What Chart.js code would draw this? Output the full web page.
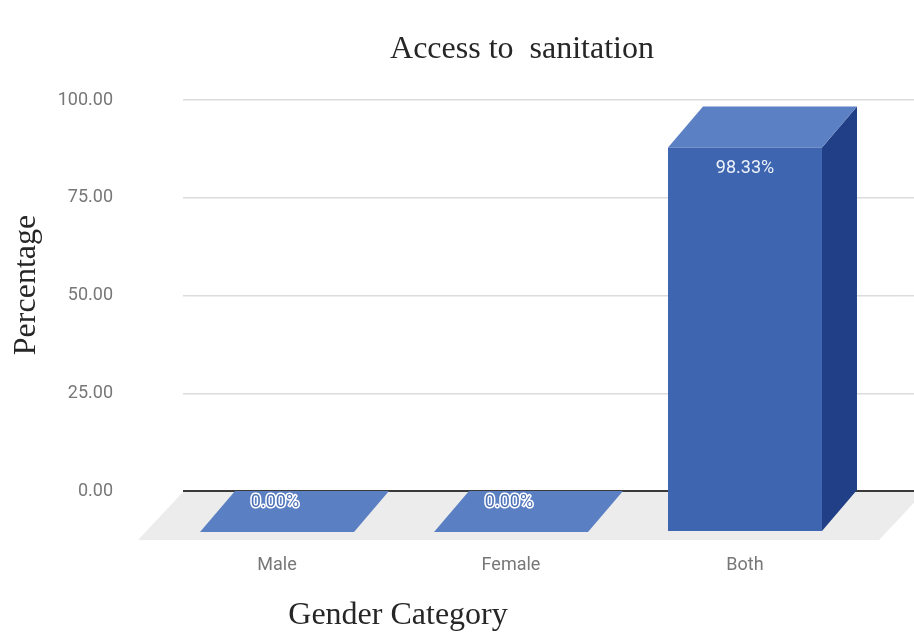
<!DOCTYPE html>
<html>
<head>
<meta charset="utf-8">
<script src="https://cdn.jsdelivr.net/npm/chart.js@4.4.1/dist/chart.umd.min.js"></script>
<style>
  html, body { margin: 0; padding: 0; background: #ffffff; }
  canvas { display: block; }
</style>
</head>
<body>
<canvas id="chart" width="914" height="639"></canvas>
<script>
// Survey result: share of respondents with access to sanitation
const categories = ['Male', 'Female', 'Both'];
const accessPct = [0, 0, 98.33];
const yTickValues = [0, 25, 50, 75, 100];

const chartTitle = 'Access to  sanitation';
const xAxisTitle = 'Gender Category';
const yAxisTitle = 'Percentage';

// 3D look: offset of the bar front relative to the back wall
const BAR_DX = -35, BAR_DY = 41;
const FLOOR_DX = -45, FLOOR_DY = 48;

const COLORS = {
  front: '#3e65b0',
  top: '#5c80c4',
  side: '#213f86',
  flat: '#5a7fc3',
  floor: '#ececec',
  grid: '#dcdcdc',
  zero: '#3a3a3a',
  tick: '#777777',
  title: '#262626'
};

const gridColor = (ctx) => (ctx.tick && ctx.tick.value === 0) ? COLORS.zero : COLORS.grid;

// Floor plane, extruded bars and value labels
const bars3d = {
  id: 'bars3d',
  beforeDatasetsDraw(chart) {
    const { ctx, chartArea, scales } = chart;
    const y0 = scales.y.getPixelForValue(0) + 1;
    const left = chartArea.left - 12;
    const right = chart.width + 10;
    ctx.save();
    ctx.fillStyle = COLORS.floor;
    ctx.beginPath();
    ctx.moveTo(left, y0);
    ctx.lineTo(right, y0);
    ctx.lineTo(right + FLOOR_DX, y0 + FLOOR_DY);
    ctx.lineTo(left + FLOOR_DX, y0 + FLOOR_DY);
    ctx.closePath();
    ctx.fill();
    ctx.restore();
  },
  afterDatasetsDraw(chart) {
    const { ctx } = chart;
    const meta = chart.getDatasetMeta(0);
    ctx.save();
    meta.data.forEach((bar, i) => {
      const { x, y, base, width } = bar.getProps(['x', 'y', 'base', 'width'], true);
      const L = x - width / 2, R = x + width / 2, T = y, B = base;
      const poly = (pts, color) => {
        ctx.fillStyle = color;
        ctx.beginPath();
        ctx.moveTo(pts[0][0], pts[0][1]);
        for (let k = 1; k < pts.length; k++) ctx.lineTo(pts[k][0], pts[k][1]);
        ctx.closePath();
        ctx.fill();
      };
      if (accessPct[i] === 0) {
        poly([[L, B], [R, B], [R + BAR_DX, B + BAR_DY], [L + BAR_DX, B + BAR_DY]], COLORS.flat);
      } else {
        poly([[R, T], [R, B], [R + BAR_DX, B + BAR_DY], [R + BAR_DX, T + BAR_DY]], COLORS.side);
        poly([[L, T], [R, T], [R + BAR_DX, T + BAR_DY], [L + BAR_DX, T + BAR_DY]], COLORS.top);
        poly([[L + BAR_DX, T + BAR_DY], [R + BAR_DX, T + BAR_DY], [R + BAR_DX, B + BAR_DY], [L + BAR_DX, B + BAR_DY]], COLORS.front);
      }
    });

    // value labels
    ctx.font = '18px Roboto';
    ctx.textAlign = 'center';
    ctx.textBaseline = 'middle';
    meta.data.forEach((bar, i) => {
      const { x, y, base } = bar.getProps(['x', 'y', 'base'], true);
      const text = accessPct[i].toFixed(2) + '%';
      const fx = x + BAR_DX;
      if (accessPct[i] === 0) {
        const ly = base + 11;
        ctx.lineJoin = 'round';
        ctx.lineWidth = 3;
        ctx.strokeStyle = '#ffffff';
        ctx.strokeText(text, fx - 2, ly);
        ctx.fillStyle = '#4a6fb6';
        ctx.fillText(text, fx - 2, ly);
      } else {
        ctx.fillStyle = '#eef2fa';
        ctx.fillText(text, fx, y + BAR_DY + 21);
      }
    });
    ctx.restore();
  },
  afterDraw(chart) {
    const { ctx } = chart;
    ctx.save();
    ctx.fillStyle = COLORS.title;
    ctx.font = '32px "Liberation Serif"';
    ctx.textAlign = 'center';
    ctx.textBaseline = 'alphabetic';
    ctx.fillText(chartTitle, 522, 58);
    ctx.fillText(xAxisTitle, 398, 624);
    ctx.translate(35, 285);
    ctx.rotate(-Math.PI / 2);
    ctx.fillText(yAxisTitle, 0, 0);
    ctx.restore();
  }
};

new Chart(document.getElementById('chart'), {
  type: 'bar',
  data: {
    labels: categories,
    datasets: [{
      label: 'Access to sanitation',
      data: accessPct,
      backgroundColor: 'rgba(0,0,0,0)',
      borderWidth: 0,
      barPercentage: 0.658,
      categoryPercentage: 1
    }]
  },
  options: {
    responsive: false,
    animation: false,
    devicePixelRatio: 1,
    events: [],
    layout: { padding: { top: 100, left: 0, right: 0, bottom: 0 } },
    plugins: {
      legend: { display: false },
      title: { display: false },
      tooltip: { enabled: false }
    },
    scales: {
      x: {
        grid: { display: false },
        border: { display: false },
        ticks: {
          color: COLORS.tick,
          font: { family: 'Roboto', size: 18 },
          padding: 56,
          labelOffset: BAR_DX,
          maxRotation: 0
        },
        afterFit: (axis) => { axis.height = 148; }
      },
      y: {
        position: 'left',
        min: 0,
        max: 100,
        afterBuildTicks: (axis) => { axis.ticks = yTickValues.map(v => ({ value: v })); },
        ticks: {
          color: COLORS.tick,
          font: { family: 'Roboto', size: 18 },
          padding: 70,
          callback: (v) => Number(v).toFixed(2)
        },
        grid: {
          color: gridColor,
          lineWidth: (ctx) => (ctx.tick && ctx.tick.value === 0) ? 2 : 1.5,
          drawTicks: true,
          tickLength: 12
        },
        border: { display: false },
        afterFit: (axis) => { axis.width = 195; }
      },
      y2: {
        position: 'right',
        min: 0,
        max: 100,
        afterBuildTicks: (axis) => { axis.ticks = yTickValues.map(v => ({ value: v })); },
        ticks: { display: false },
        grid: {
          color: gridColor,
          lineWidth: (ctx) => (ctx.tick && ctx.tick.value === 0) ? 2 : 1.5,
          drawOnChartArea: false,
          drawTicks: true,
          tickLength: 17
        },
        border: { display: false },
        afterFit: (axis) => { axis.width = 17; }
      }
    }
  },
  plugins: [bars3d]
});
</script>
</body>
</html>
